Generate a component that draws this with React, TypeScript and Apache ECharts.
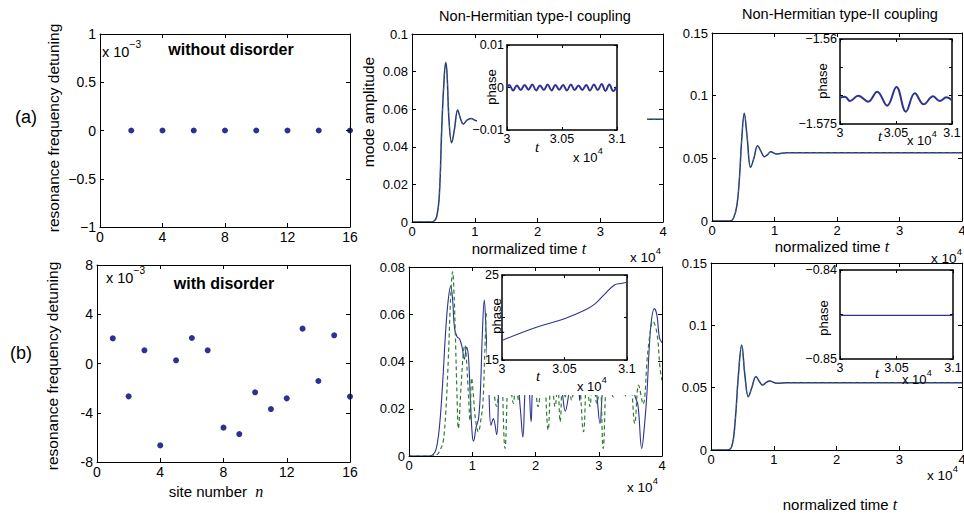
import React, { useEffect, useRef } from 'react';
import * as echarts from 'echarts';

const W = 964;
const H = 513;
const FONT = '"Liberation Sans", Arial, Helvetica, sans-serif';
const SERIF = '"Liberation Serif", "Times New Roman", serif';
const BLUE = '#2e3192';
const GREEN = '#2e7d32';

// ---------- data ----------
// (a) left: resonance frequency detuning (x 10^-3) per site, no disorder
const sitesA = [2, 4, 6, 8, 10, 12, 14, 16];
const detuningA = [0, 0, 0, 0, 0, 0, 0, 0];
// (b) left: with disorder
const sitesB = [1, 2, 3, 4, 5, 6, 7, 8, 9, 10, 11, 12, 13, 14, 15, 16];
const detuningB = [2.04, -2.67, 1.07, -6.65, 0.26, 2.07, 1.07, -5.21, -5.73, -2.34, -3.7, -2.83, 2.83, -1.42, 2.29, -2.69];

// (a) middle: type-I coupling, mode amplitude vs normalized time (x 10^4)
const typeIaT = [0, 0.3, 0.34, 0.393, 0.436, 0.473, 0.505, 0.537, 0.558, 0.59, 0.632, 0.675, 0.728, 0.77, 0.817, 0.876, 0.94, 1.03, 1.15, 1.5, 2.5, 3.5, 4];
const typeIaV = [0, 0, 0.0002, 0.0028, 0.0145, 0.0489, 0.072, 0.0849, 0.079, 0.054, 0.0422, 0.049, 0.0596, 0.0553, 0.0521, 0.0542, 0.0551, 0.0539, 0.0546, 0.0546, 0.0546, 0.0546, 0.0546];

// (a) right: type-II coupling
const typeIIaT = [0, 0.288, 0.341, 0.395, 0.437, 0.475, 0.517, 0.56, 0.619, 0.67, 0.73, 0.78, 0.837, 0.89, 0.939, 1.035, 1.2, 2, 3, 4];
const typeIIaV = [0, 0, 0.002, 0.0114, 0.0327, 0.0646, 0.0859, 0.068, 0.0428, 0.05, 0.0601, 0.056, 0.0513, 0.053, 0.0553, 0.0535, 0.0545, 0.0545, 0.0545, 0.0545];

// (b) middle: type-I coupling with disorder (solid and dashed)
const typeIbSolidT = [0, 0.3, 0.38, 0.43, 0.48, 0.53, 0.58, 0.62, 0.66, 0.69, 0.72, 0.76, 0.8, 0.84, 0.875, 0.91, 0.94, 0.97, 1.0, 1.02, 1.06, 1.1, 1.13, 1.16, 1.19, 1.22, 1.26, 1.296, 1.333, 1.386, 1.43, 1.5, 1.6, 1.7, 1.76, 1.8, 1.84, 1.88, 1.93, 1.97, 2.1, 2.3, 2.42, 2.47, 2.53, 2.6, 2.68, 2.7, 2.72, 2.85, 2.96, 3.02, 3.07, 3.2, 3.35, 3.5, 3.57, 3.62, 3.68, 3.72, 3.76, 3.82, 3.88, 3.92, 3.96, 4.0];
const typeIbSolidV = [0, 0, 0.0006, 0.003, 0.012, 0.03, 0.053, 0.066, 0.072, 0.066, 0.054, 0.0505, 0.0495, 0.046, 0.041, 0.046, 0.042, 0.024, 0.009, 0.0063, 0.012, 0.016, 0.028, 0.052, 0.066, 0.052, 0.03, 0.013, 0.0158, 0.009, 0.035, 0.05, 0.04, 0.035, 0.02, 0.008, 0.03, 0.035, 0.0145, 0.035, 0.05, 0.04, 0.027, 0.019, 0.027, 0.04, 0.03, 0.0235, 0.03, 0.045, 0.028, 0.0137, 0.03, 0.045, 0.04, 0.035, 0.0257, 0.0214, 0.0032, 0.012, 0.0257, 0.054, 0.0624, 0.0595, 0.05, 0.048];
const typeIbDashT = [0, 0.35, 0.44, 0.5, 0.54, 0.58, 0.62, 0.66, 0.69, 0.71, 0.73, 0.76, 0.78, 0.82, 0.86, 0.885, 0.91, 0.94, 0.965, 0.99, 1.02, 1.05, 1.096, 1.14, 1.17, 1.2, 1.23, 1.3, 1.386, 1.45, 1.518, 1.58, 1.65, 1.69, 1.73, 1.8, 1.89, 1.96, 2.04, 2.12, 2.2, 2.25, 2.31, 2.35, 2.39, 2.43, 2.47, 2.52, 2.57, 2.66, 2.76, 2.81, 2.86, 2.91, 2.97, 3.02, 3.07, 3.14, 3.23, 3.32, 3.41, 3.49, 3.57, 3.63, 3.7, 3.78, 3.86, 3.92, 3.97, 4.0];
const typeIbDashV = [0, 0, 0.0005, 0.003, 0.006, 0.018, 0.04, 0.068, 0.078, 0.07, 0.054, 0.025, 0.0116, 0.028, 0.044, 0.047, 0.04, 0.0257, 0.015, 0.033, 0.025, 0.0158, 0.0102, 0.016, 0.023, 0.045, 0.061, 0.04, 0.021, 0.04, 0.0032, 0.035, 0.0223, 0.035, 0.0237, 0.04, 0.026, 0.04, 0.0209, 0.04, 0.011, 0.035, 0.0209, 0.03, 0.0145, 0.032, 0.025, 0.035, 0.0237, 0.04, 0.0103, 0.035, 0.0209, 0.035, 0.0223, 0.03, 0.0032, 0.035, 0.025, 0.04, 0.025, 0.035, 0.0138, 0.03, 0.022, 0.045, 0.057, 0.052, 0.037, 0.032];

// (b) right: type-II coupling with disorder
const typeIIbT = [0, 0.25, 0.329, 0.382, 0.435, 0.489, 0.542, 0.595, 0.65, 0.717, 0.77, 0.823, 0.875, 0.93, 1.05, 1.2, 2, 3, 4];
const typeIIbV = [0, 0, 0.0027, 0.0214, 0.059, 0.0842, 0.059, 0.0428, 0.05, 0.059, 0.055, 0.0521, 0.054, 0.0553, 0.0535, 0.054, 0.054, 0.054, 0.054];

// insets: phase vs t (x 10^4)
const insetIaT = [3.0, 3.002, 3.0055, 3.009, 3.0125, 3.016, 3.0195, 3.023, 3.0265, 3.03, 3.0335, 3.037, 3.0405, 3.044, 3.0475, 3.051, 3.0545, 3.058, 3.0615, 3.065, 3.0685, 3.072, 3.0755, 3.079, 3.0825, 3.086, 3.0895, 3.093, 3.0965, 3.1];
const insetIaV = [0, 0.0006, -0.0007, 0.0005, -0.0006, 0.0006, -0.0005, 0.0007, -0.0007, 0.0005, -0.0006, 0.0007, -0.0007, 0.0006, -0.0005, 0.0006, -0.0007, 0.0007, -0.0006, 0.0005, -0.0006, 0.0006, -0.0007, 0.0007, -0.0006, 0.0008, -0.0008, 0.0007, -0.0008, 0.0003];
const insetIIaT = [3.0, 3.00445, 3.0089, 3.0163, 3.0252, 3.0332, 3.0421, 3.0504, 3.0588, 3.0668, 3.0748, 3.0831, 3.089, 3.095, 3.1];
const insetIIaV = [-1.57035, -1.57018, -1.57094, -1.57, -1.57106, -1.56929, -1.57176, -1.56847, -1.57282, -1.56959, -1.57153, -1.57012, -1.57094, -1.5703, -1.57082];
const insetIbT = [3.0, 3.0264, 3.05, 3.066, 3.0744, 3.0824, 3.09, 3.095, 3.1];
const insetIbV = [17.3, 18.8, 19.86, 20.84, 21.6, 22.78, 23.83, 24.0, 24.15];
const insetIIbT = [3.0, 3.1];
const insetIIbV = [-0.8451, -0.8451];

// ---------- helpers ----------
const zip = (xs: number[], ys: number[]) => xs.map((x, i) => [x, ys[i]]);
const num = (v: number) => String(parseFloat(v.toFixed(4)));
const minus = (s: string) => s.replace('-', '\u2212');

const LAYOUT = [
  { left: 100, top: 34, width: 250, height: 193 }, // 0 TL
  { left: 97, top: 265, width: 253, height: 197 }, // 1 BL
  { left: 412, top: 34, width: 251, height: 188 }, // 2 TM
  { left: 409, top: 267, width: 253, height: 189 }, // 3 BM
  { left: 712, top: 33, width: 250, height: 188 }, // 4 TR
  { left: 711, top: 263, width: 251, height: 187 }, // 5 BR
  { left: 507, top: 45, width: 110, height: 85 }, // 6 TM inset
  { left: 502, top: 275, width: 125, height: 85 }, // 7 BM inset
  { left: 840, top: 39, width: 112, height: 85 }, // 8 TR inset
  { left: 840, top: 270, width: 113, height: 89 }, // 9 BR inset
];

type AxisCfg = { min: number; max: number; interval: number; fmt: (v: number) => string };

const XCFG: AxisCfg[] = [
  { min: 0, max: 16, interval: 4, fmt: num },
  { min: 0, max: 16, interval: 4, fmt: num },
  { min: 0, max: 4, interval: 1, fmt: num },
  { min: 0, max: 4, interval: 1, fmt: num },
  { min: 0, max: 4, interval: 1, fmt: num },
  { min: 0, max: 4, interval: 1, fmt: num },
  { min: 3, max: 3.1, interval: 0.05, fmt: num },
  { min: 3, max: 3.1, interval: 0.05, fmt: num },
  { min: 3, max: 3.1, interval: 0.05, fmt: num },
  { min: 3, max: 3.1, interval: 0.05, fmt: num },
];
const endsOnly = (min: number, max: number) => (v: number) =>
  Math.abs(v - min) < 1e-9 || Math.abs(v - max) < 1e-9 ? minus(num(v)) : '';
const YCFG: AxisCfg[] = [
  { min: -1, max: 1, interval: 0.5, fmt: (v) => minus(num(v)) },
  { min: -8, max: 8, interval: 4, fmt: num },
  { min: 0, max: 0.1, interval: 0.02, fmt: num },
  { min: 0, max: 0.08, interval: 0.02, fmt: num },
  { min: 0, max: 0.15, interval: 0.05, fmt: num },
  { min: 0, max: 0.15, interval: 0.05, fmt: num },
  { min: -0.01, max: 0.01, interval: 0.01, fmt: (v) => minus(num(v)) },
  { min: 15, max: 25, interval: 5, fmt: endsOnly(15, 25) },
  { min: -1.575, max: -1.56, interval: 0.005, fmt: endsOnly(-1.575, -1.56) },
  { min: -0.85, max: -0.84, interval: 0.005, fmt: endsOnly(-0.85, -0.84) },
];

function fontSizeFor(i: number) {
  if (i < 2) return 14;
  if (i < 6) return 13;
  return 12.5;
}

function buildAxes() {
  const xAxis: any[] = [];
  const yAxis: any[] = [];
  const xTop: any[] = [];
  const yRight: any[] = [];
  for (let i = 0; i < 10; i++) {
    const inset = i >= 6;
    const z = inset ? 12 : 6;
    const lineW = inset ? 1.5 : 1;
    const tickLen = inset ? 3 : 4;
    const fs = fontSizeFor(i);
    const common = (c: AxisCfg) => ({
      gridIndex: i,
      type: 'value',
      min: c.min,
      max: c.max,
      interval: c.interval,
      z,
      axisLine: { show: true, onZero: false, lineStyle: { color: '#000', width: lineW } },
      axisTick: { show: true, inside: true, length: tickLen, lineStyle: { color: '#000', width: 1 } },
      splitLine: { show: false },
      minorTick: { show: false },
    });
    xAxis.push({
      ...common(XCFG[i]),
      position: 'bottom',
      axisLabel: { show: true, margin: inset ? 2 : 3, fontSize: fs, fontFamily: FONT, color: '#000', formatter: XCFG[i].fmt },
    });
    xTop.push({ ...common(XCFG[i]), position: 'top', axisLabel: { show: false } });
    yAxis.push({
      ...common(YCFG[i]),
      position: 'left',
      axisLabel: { show: true, margin: inset ? 3 : 4, fontSize: fs, fontFamily: FONT, color: '#000', formatter: YCFG[i].fmt },
    });
    yRight.push({ ...common(YCFG[i]), position: 'right', axisLabel: { show: false } });
  }
  return { xAxis: [...xAxis, ...xTop], yAxis: [...yAxis, ...yRight] };
}

function lineSeries(gi: number, data: number[][], color: string, dash: any, width: number, z: number, smooth: number | boolean = 0.4) {
  return {
    type: 'line',
    xAxisIndex: gi,
    yAxisIndex: gi,
    data,
    showSymbol: false,
    symbol: 'none',
    smooth,
    z,
    clip: true,
    silent: true,
    lineStyle: { color, width, type: dash },
  };
}

function txt(x: number, y: number, text: string, opts: any = {}) {
  const { rotation, align = 'center', valign = 'middle', size = 15, weight = 'normal', style = 'normal', family = FONT, rich } = opts;
  return {
    type: 'text',
    x,
    y,
    rotation: rotation || 0,
    z: 20,
    silent: true,
    style: {
      text,
      fill: '#000',
      fontSize: size,
      fontWeight: weight,
      fontStyle: style,
      fontFamily: family,
      textAlign: align,
      textVerticalAlign: valign,
      align,
      verticalAlign: valign,
      rich,
    },
  };
}

const timeRich = {
  a: { fontSize: 15, fontFamily: FONT, fill: '#000', color: '#000' },
  b: { fontSize: 16, fontFamily: SERIF, fontStyle: 'italic', fill: '#000', color: '#000' },
};

function x10(x: number, y: number, exp: string, size = 14) {
  return [
    txt(x, y, 'x 10', { align: 'left', size }),
    txt(x + size * 1.9, y - size * 0.5, exp, { align: 'left', size: size * 0.7 }),
  ];
}

function buildOption() {
  const { xAxis, yAxis } = buildAxes();
  const grid = LAYOUT.map((g, i) => ({
    ...g,
    containLabel: false,
    outerBoundsMode: 'none',
    show: i >= 6,
    backgroundColor: '#fff',
    borderWidth: 0,
    z: i >= 6 ? 11 : 0,
  }));

  const series: any[] = [
    { type: 'scatter', xAxisIndex: 0, yAxisIndex: 0, data: zip(sitesA, detuningA), symbolSize: 6, itemStyle: { color: BLUE, opacity: 1 }, z: 3, clip: false, silent: true },
    { type: 'scatter', xAxisIndex: 1, yAxisIndex: 1, data: zip(sitesB, detuningB), symbolSize: 6, itemStyle: { color: BLUE, opacity: 1 }, z: 3, clip: false, silent: true },
    lineSeries(2, zip(typeIaT, typeIaV), BLUE, 'solid', 1.5, 2),
    lineSeries(2, zip(typeIaT, typeIaV), GREEN, [3, 4], 1, 3),
    lineSeries(3, zip(typeIbSolidT, typeIbSolidV), BLUE, 'solid', 1.1, 2),
    lineSeries(3, zip(typeIbDashT, typeIbDashV), GREEN, [4, 3], 1.2, 3),
    lineSeries(4, zip(typeIIaT, typeIIaV), BLUE, 'solid', 1.5, 2),
    lineSeries(4, zip(typeIIaT, typeIIaV), GREEN, [3, 4], 1, 3),
    lineSeries(5, zip(typeIIbT, typeIIbV), BLUE, 'solid', 1.5, 2),
    lineSeries(5, zip(typeIIbT, typeIIbV), GREEN, [3, 4], 1, 3),
    lineSeries(6, zip(insetIaT, insetIaV), BLUE, 'solid', 2, 13),
    lineSeries(7, zip(insetIbT, insetIbV), BLUE, 'solid', 1.1, 13),
    lineSeries(8, zip(insetIIaT, insetIIaV), BLUE, 'solid', 2, 13),
    lineSeries(9, zip(insetIIbT, insetIIbV), BLUE, 'solid', 1.1, 13, false),
  ];

  const graphic: any[] = [
    // white boxes of the inset axes that hide the main curves
    { type: 'rect', z: 5, silent: true, shape: { x: 477, y: 40, width: 170, height: 120 }, style: { fill: '#fff' } },
    { type: 'rect', z: 5, silent: true, shape: { x: 487, y: 270, width: 149, height: 125 }, style: { fill: '#fff' } },

    txt(26, 117, '(a)', { size: 18 }),
    txt(21, 353, '(b)', { size: 18 }),
    txt(53, 128, 'resonance frequency detuning', { rotation: Math.PI / 2, size: 15.5 }),
    txt(52, 366, 'resonance frequency detuning', { rotation: Math.PI / 2, size: 15.5 }),
    txt(231, 49, 'without disorder', { size: 16, weight: 'bold' }),
    txt(224, 283, 'with disorder', { size: 16, weight: 'bold' }),
    ...x10(102, 52, '\u22123', 14.5),
    ...x10(106, 278, '\u22123', 14.5),
    txt(216, 491, '{a|site number  }{b|n}', { rich: timeRich }),

    txt(535, 16, 'Non-Hermitian type-I coupling', { size: 14.5 }),
    txt(840, 14, 'Non-Hermitian type-II coupling', { size: 14.5 }),
    txt(368, 112, 'mode amplitude', { rotation: Math.PI / 2, size: 15.5 }),
    txt(529, 248, '{a|normalized time }{b|t}', { rich: timeRich }),
    txt(832, 246, '{a|normalized time }{b|t}', { rich: timeRich }),
    txt(840, 504, '{a|normalized time }{b|t}', { rich: timeRich }),
    ...x10(630, 257, '4', 13.5),
    ...x10(931, 258, '4', 13.5),
    ...x10(627, 487, '4', 13.5),
    ...x10(927, 475, '4', 13.5),

    // inset labels
    txt(491, 87, 'phase', { rotation: Math.PI / 2, size: 13 }),
    txt(496, 316, 'phase', { rotation: Math.PI / 2, size: 13 }),
    txt(822, 81, 'phase', { rotation: Math.PI / 2, size: 13 }),
    txt(823, 318, 'phase', { rotation: Math.PI / 2, size: 13 }),
    txt(537, 147, 't', { size: 15, style: 'italic', family: SERIF }),
    txt(538, 376, 't', { size: 15, style: 'italic', family: SERIF }),
    txt(880, 136, 't', { size: 15, style: 'italic', family: SERIF }),
    txt(877, 373, 't', { size: 15, style: 'italic', family: SERIF }),
    ...x10(573, 157, '4', 13),
    ...x10(577, 386, '4', 13),
    ...x10(907, 140, '4', 13),
    ...x10(902, 379, '4', 13),
  ];

  return {
    animation: false,
    backgroundColor: '#fff',
    textStyle: { fontFamily: FONT },
    grid,
    xAxis,
    yAxis,
    series,
    graphic,
  };
}

export default function App() {
  const ref = useRef<HTMLDivElement>(null);
  useEffect(() => {
    if (!ref.current) return;
    const chart = echarts.init(ref.current, undefined, { renderer: 'svg', width: W, height: H });
    chart.setOption(buildOption() as any);
    return () => chart.dispose();
  }, []);
  return <div ref={ref} style={{ position: 'absolute', left: 0, top: 0, width: W, height: H, background: '#fff' }} />;
}
